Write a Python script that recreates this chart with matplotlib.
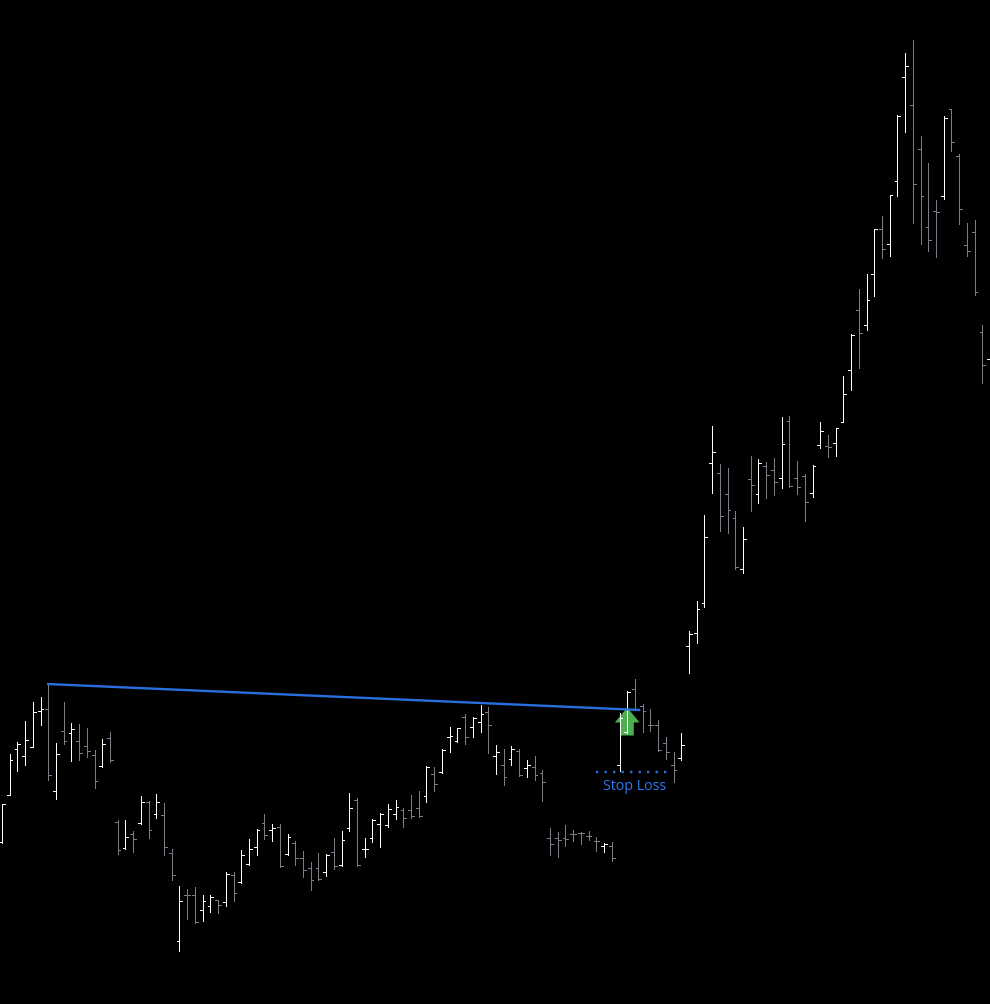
import matplotlib
matplotlib.use("Agg")
import matplotlib.pyplot as plt
from matplotlib.collections import LineCollection

highs = [804,754,742,721,702,697,685,743,702,723,
         724,728,750,739,732,820,820,831,796,801,
         794,803,849,886,889,887,895,895,900,872,
         872,850,839,829,814,824,824,834,841,851,
         862,853,854,838,831,793,798,838,819,813,
         804,800,808,795,791,766,767,749,727,728,
         714,717,705,707,745,749,746,749,760,756,
         770,828,832,825,830,832,831,837,843,842,
         713,691,679,704,709,720,737,752,733,631,
         601,515,426,464,468,511,527,456,459,462,
         458,417,416,461,474,465,422,435,428,376,
         334,289,274,229,216,195,115,53,40,136,
         163,200,116,109,154,223,220,325,359]
lows = [843,795,771,765,747,725,780,799,744,761,
        760,757,788,767,762,854,849,852,824,838,
        818,855,880,951,919,923,921,912,913,906,
        901,883,865,855,839,841,867,855,865,877,
        890,880,876,869,866,831,866,857,842,847,
        827,819,827,818,817,802,791,773,752,742,
        744,737,732,753,774,785,765,776,777,780,
        801,855,857,846,841,844,840,851,852,861,
        771,733,710,732,731,751,759,782,760,673,
        643,607,493,531,533,569,573,511,503,498,
        495,488,487,494,521,497,448,457,456,422,
        390,368,330,296,258,256,196,132,223,244,
        251,257,199,151,224,256,295,383,359]
opens = [842,795,749,756,747,711,709,791,731,733,
         741,746,755,766,738,822,848,834,823,802,
         814,815,853,941,895,895,910,906,900,902,
         875,882,864,847,823,830,827,854,843,858,
         868,868,872,852,865,828,800,849,838,824,
         825,814,810,810,808,796,774,772,737,741,
         717,727,722,712,756,765,759,751,768,767,
         773,838,838,838,834,833,836,841,846,846,
         765,732,689,706,725,725,743,765,758,646,
         633,603,463,473,494,518,569,479,494,466,
         470,478,421,478,476,493,445,446,443,422,
         370,310,325,274,229,244,181,77,105,149,
         227,211,196,109,156,245,232,332,359]
closes = [804,760,744,740,712,709,775,754,741,729,
          753,751,781,744,760,850,837,839,802,830,
          802,847,875,901,895,922,901,897,905,874,
          893,855,849,830,835,828,866,837,858,870,
          880,879,855,866,840,808,865,849,820,814,
          809,807,818,816,816,767,784,750,736,728,
          737,718,714,725,752,777,749,775,765,775,
          782,844,840,839,834,833,836,841,844,858,
          718,692,710,711,725,750,752,770,745,634,
          609,537,452,516,510,567,539,485,463,475,
          482,444,486,487,502,466,431,447,428,394,
          335,333,300,229,249,195,116,66,184,196,
          240,212,118,142,209,251,292,365,359]
directions = ("WWWWWWGWGW" "GGGWGGWGWG" "WGGWGGWWGW" "GWWWGWGWGG"
              "GGWGWWGWWW" "WWGGGWGWWW" "GWWGWGWGWG" "GGGGGGGGWG"
              "WWGGGGGGWW" "WWWGGGWGWG" "GWGGGWWGWW" "WGWWGWWWGG"
              "GGWGGGGGW")

trend_index = [5.85, 82.7]
trend_level = [684.5, 710.5]
stop_index = [77.0, 86.6]
stop_level = [772.5, 772.5]
stop_label = "Stop Loss"
entry_index = 81
arrow_tip = 708
arrow_shoulder = 723
arrow_base = 736

WHITE = "#ffffff"
GRAY = "#7b7d89"
BLUE = "#2a6fdf"
GREEN = "#4caf50"
STEP = 7.72
OFFSET = 1.9
TICK = 0.36

fig = plt.figure(figsize=(9.9, 10.045), dpi=100, facecolor="black")
ax = fig.add_axes([0, 0, 1, 1], facecolor="black")
ax.set_xlim(-OFFSET / STEP, (990 - OFFSET) / STEP)
ax.set_ylim(1004.5, 0)
ax.axis("off")

# green entry arrow sits behind the bars
ax.fill([entry_index, entry_index + 1.6, entry_index + 0.85, entry_index + 0.85,
         entry_index - 0.85, entry_index - 0.85, entry_index - 1.6],
        [arrow_tip, arrow_shoulder, arrow_shoulder, arrow_base,
         arrow_base, arrow_shoulder, arrow_shoulder],
        color=GREEN, linewidth=0, zorder=1)

segments, colors = [], []
for i, (h, l, o, c, d) in enumerate(zip(highs, lows, opens, closes, directions)):
    col = WHITE if d == "W" else GRAY
    segments += [[(i, h), (i, l)], [(i - TICK, o), (i, o)], [(i, c), (i + TICK, c)]]
    colors += [col, col, col]
bars = LineCollection(segments, colors=colors, linewidths=0.5, antialiaseds=False,
                      capstyle="butt", zorder=3)
ax.add_collection(bars)

ax.plot(trend_index, trend_level, color=BLUE, linewidth=1.7, zorder=4,
        solid_capstyle="butt")
ax.plot(stop_index, stop_level, color=BLUE, linewidth=1.7,
        linestyle=(0, (1.0, 2.6)), zorder=4)
ax.text(81.9, 786, stop_label, color="#2f78ee", fontsize=10.3, family="Open Sans",
        ha="center", va="center", zorder=5)

fig.savefig("out.png", dpi=100, facecolor="black")
